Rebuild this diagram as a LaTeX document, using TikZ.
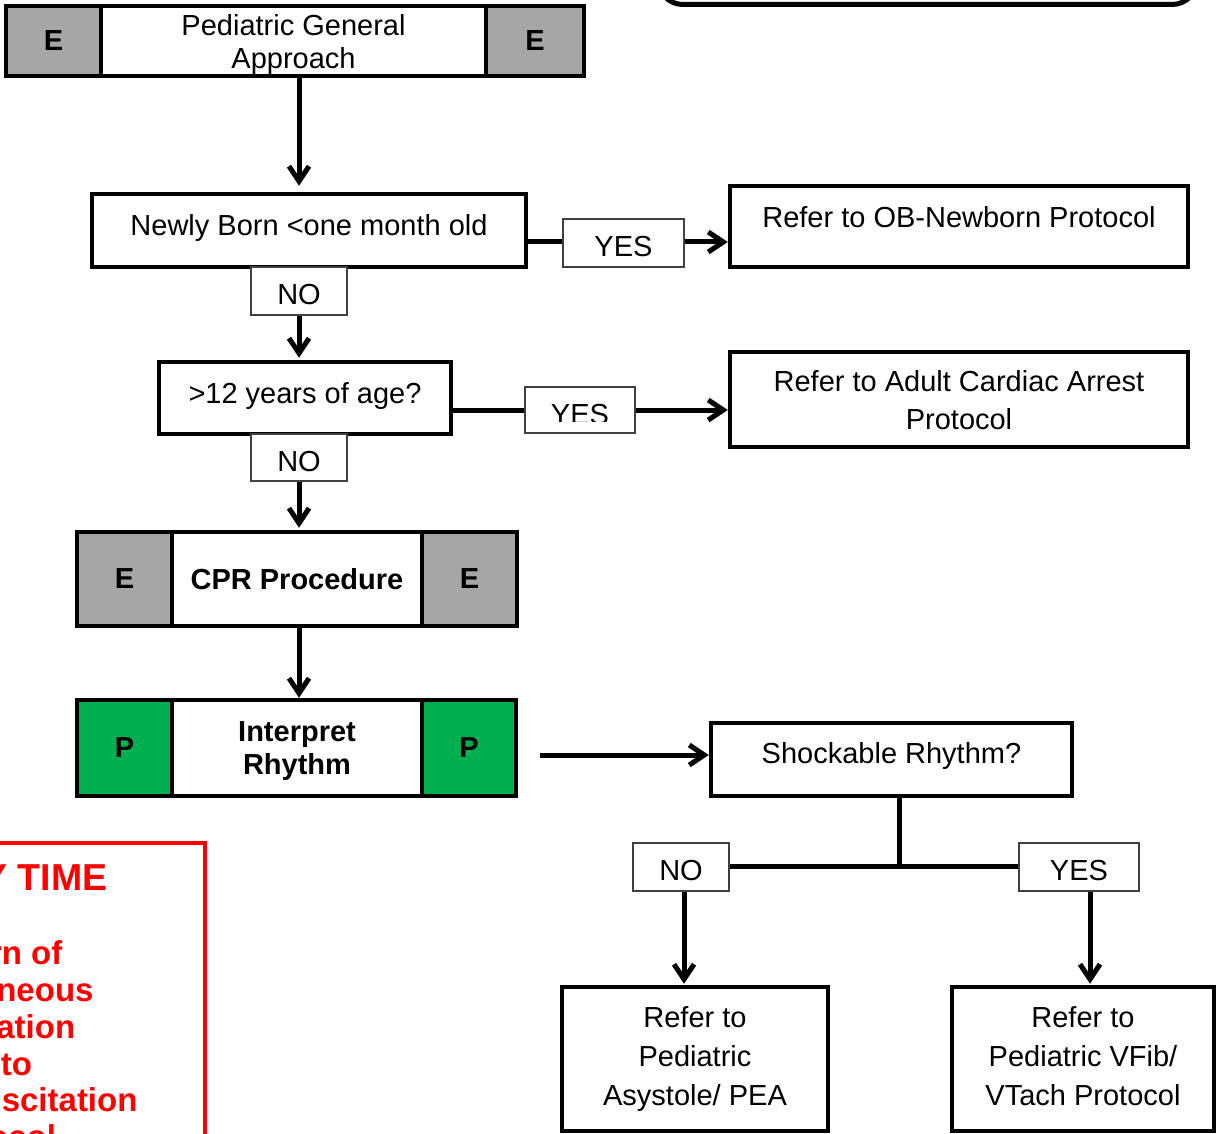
\documentclass[tikz,border=0pt]{standalone}
\usepackage{fontspec}
\setmainfont{Liberation Sans}
\usetikzlibrary{arrows.meta}
\definecolor{cellgray}{RGB}{166,166,166}
\definecolor{cellgreen}{RGB}{0,176,80}
\definecolor{labgray}{RGB}{64,64,64}
\definecolor{alertred}{RGB}{255,0,0}
\newcommand{\fsn}{\fontsize{29}{33}\selectfont}
\newcommand{\fsb}{\fontsize{29}{33}\selectfont\bfseries}
\tikzset{
  box/.style={draw, line width=4.5pt, fill=white, inner sep=0pt, align=center, font=\fsn},
  onebox/.style={box, text height=21pt, text depth=10pt},
  gcell/.style={box, fill=cellgray, font=\fsb},
  pcell/.style={box, fill=cellgreen, font=\fsb},
  midcell/.style={box, font=\fsb},
  lab/.style={draw=labgray, line width=1.5pt, fill=white, inner sep=0pt, font=\fsn, text height=27pt, text depth=0pt},
  conn/.style={line width=5pt},
  arr/.style={line width=5pt, -{Straight Barb[length=15pt,width=20pt]}},
  redtxt/.style={text=alertred, inner sep=0pt, anchor=base, font=\fontsize{33}{37}\selectfont\bfseries},
}
\begin{document}
\begin{tikzpicture}[x=1pt,y=-1pt]
\useasboundingbox (0,0) rectangle (1216,1134);
\clip (0,0) rectangle (1216,1134);
\fill[white] (0,0) rectangle (1216,1134);

% partial rounded box at top right
\draw[line width=5pt, rounded corners=25pt] (658,-80) rectangle (1197,4.5);

% Pediatric General Approach
\node[gcell, minimum width=95, minimum height=70] (te1) at (53.5,41) {E};
\node[midcell, font=\fsn, minimum width=385, minimum height=70, text depth=-2pt] (tm) at (293.5,41) {Pediatric General\\Approach};
\node[gcell, minimum width=98, minimum height=70] (te2) at (535,41) {E};

% Newly born
\node[onebox, minimum width=434, minimum height=73] (nb) at (309,230.5) {Newly Born <one month old};
\node[box, minimum width=458, minimum height=81, text height=21pt, text depth=19pt] (ob) at (959,226.5) {Refer to OB-Newborn Protocol};

% >12 years
\node[onebox, minimum width=292, minimum height=72] (tw) at (305,398) {>12 years of age?};
\node[box, minimum width=458, minimum height=95, font=\fontsize{29}{38}\selectfont, text depth=-6pt] (ad) at (959,399.5) {Refer to Adult Cardiac Arrest\\Protocol};

% CPR
\node[gcell, minimum width=95, minimum height=94] (ce1) at (124.5,579) {E};
\node[midcell, minimum width=250, minimum height=94] (cm) at (297,579) {CPR Procedure};
\node[gcell, minimum width=95, minimum height=94] (ce2) at (469.5,579) {E};

% Interpret rhythm
\node[pcell, minimum width=95, minimum height=96] (ip1) at (124.5,748) {P};
\node[midcell, minimum width=250, minimum height=96, text depth=-4pt] (im) at (297,748) {Interpret\\Rhythm};
\node[pcell, minimum width=94, minimum height=96] (ip2) at (469,748) {P};

% Shockable
\node[onebox, minimum width=361, minimum height=73, text depth=14pt] (sh) at (891.5,759.5) {Shockable Rhythm?};
\node[box, minimum width=266, minimum height=144, font=\fontsize{29}{39}\selectfont, text depth=6pt] (asy) at (695,1059) {Refer to\\Pediatric\\Asystole/ PEA};
\node[box, minimum width=262, minimum height=144, font=\fontsize{29}{39}\selectfont, text depth=6pt] (vf) at (1083,1059) {Refer to\\Pediatric VFib/\\VTach Protocol};

% connector coordinates
\coordinate (ia) at (540,755);
\coordinate (jn) at (899,866);

% label boxes (geometry)
\path (299,291) node[lab, minimum width=96, minimum height=48] (no1) {};
\path (299,457.5) node[lab, minimum width=96, minimum height=47] (no2) {};
\path (623.5,243) node[lab, minimum width=121, minimum height=48] (yes1) {};
\path (580,410) node[lab, minimum width=110, minimum height=46] (yes2) {};
\path (681,867) node[lab, minimum width=96, minimum height=48] (no3) {};
\path (1079,867) node[lab, minimum width=120, minimum height=48] (yes3) {};

% connectors
\draw[arr, shorten >=6pt] (tm.south -| no1) -- (nb.north -| no1);
\draw[arr, shorten >=2pt] (no1.south) -- (tw.north -| no1);
\draw[arr, shorten >=2pt] (no2.south) -- (cm.north -| no2);
\draw[arr, shorten >=0pt] (cm.south -| no2) -- (im.north -| no2);
\draw[conn] (nb.east |- 0,242) -- (yes1.west |- 0,242);
\draw[arr] (yes1.east |- 0,242) -- (ob.west |- 0,242);
\draw[conn] (tw.east |- yes2) -- (yes2.west);
\draw[arr] (yes2.east) -- (ad.west |- yes2);
\draw[arr] (ia) -- (ia -| sh.west);
\draw[conn] (sh.south -| jn) -- (jn);
\draw[conn] (no3.east |- jn) -- (yes3.west |- jn);
\draw[arr, shorten >=1pt] ([xshift=3pt]no3.south) -- ([xshift=3pt]asy.north -| no3);
\draw[arr, shorten >=1pt] ([xshift=11pt]yes3.south) -- ([xshift=11pt]vf.north -| yes3);

% label boxes drawn over connectors
\node[lab, minimum width=96, minimum height=48] (no1b) at (no1) {NO};
\node[lab, minimum width=96, minimum height=47] (no2b) at (no2) {NO};
\node[lab, minimum width=121, minimum height=48] (yes1b) at (yes1) {YES};
\node[lab, minimum width=110, minimum height=46] (yes2b) at (yes2) {};
\begin{scope}
  \clip (527,389) rectangle (633,421);
  \node[inner sep=0pt, anchor=base, font=\fsn] (yes2t) at (580,424) {YES};
\end{scope}
\node[lab, minimum width=96, minimum height=48] (no3b) at (no3) {NO};
\node[lab, minimum width=120, minimum height=48] (yes3b) at (yes3) {YES};

% red alert box (cut off at left and bottom)
\draw[alertred, line width=4.5pt] (-400,843) rectangle (205,1400);
\node[redtxt, font=\fontsize{37.5}{40}\selectfont\bfseries] (rt0) at (-11,890) {AT ANY TIME};
\node[redtxt] (rt1) at (-11,964) {Return of};
\node[redtxt] (rt2) at (-11,1001) {Spontaneous};
\node[redtxt] (rt3) at (-11,1038) {Circulation};
\node[redtxt] (rt4) at (-11,1075) {Go to};
\node[redtxt] (rt5) at (-11,1111) {Post Resuscitation};
\node[redtxt] (rt6) at (-11,1148) {Protocol};
\end{tikzpicture}
\end{document}
